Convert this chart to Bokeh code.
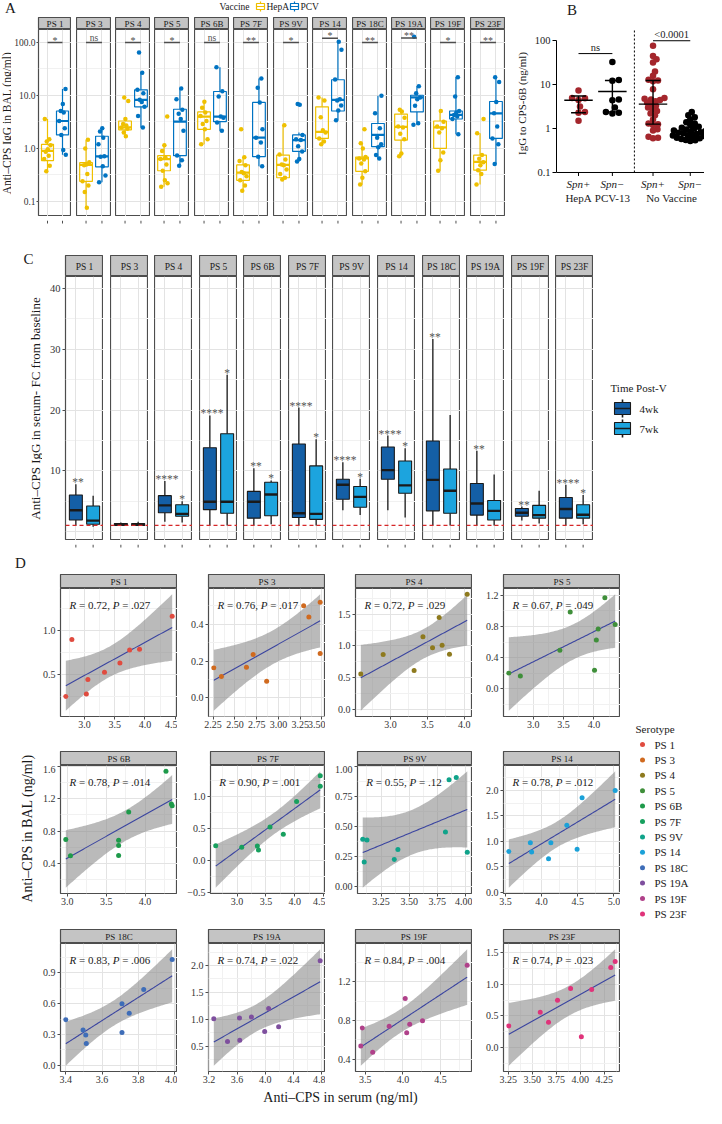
import numpy as np
from bokeh.plotting import figure
from bokeh.layouts import row, column
from bokeh.models import (Range1d, FixedTicker, CustomJSTickFormatter, LinearAxis,
                          LogAxis, Grid, Spacer, Span)
from bokeh.core.properties import value
from bokeh.embed import file_html
from bokeh.resources import INLINE

# ======================= DATA =======================
SEROTYPES = ["PS 1", "PS 3", "PS 4", "PS 5", "PS 6B", "PS 7F", "PS 9V",
             "PS 14", "PS 18C", "PS 19A", "PS 19F", "PS 23F"]

# ---- Panel A: anti-CPS IgG in BAL (ng/ml) ----
A_groups = ["HepA", "PCV"]
A_hepa_points = [
    [3.6, 1.5, 1.35, 1.15, 0.97, 0.87, 0.73, 0.63, 0.47, 0.37],
    [1.46, 1.0, 0.55, 0.5, 0.48, 0.33, 0.24, 0.2, 0.15, 0.076],
    [9.2, 7.9, 3.6, 2.9, 2.7, 2.5, 2.35, 2.0, 1.7],
    [4.0, 1.15, 0.9, 0.68, 0.63, 0.5, 0.38, 0.25, 0.22, 0.19],
    [7.6, 5.9, 4.8, 4.1, 3.3, 2.9, 2.3, 1.5, 1.2],
    [2.3, 0.68, 0.58, 0.48, 0.36, 0.34, 0.3, 0.25, 0.2, 0.16],
    [2.75, 0.77, 0.62, 0.5, 0.48, 0.4, 0.33, 0.28, 0.26],
    [9.2, 8.0, 3.9, 2.2, 2.0, 1.55, 1.35, 1.2],
    [2.3, 1.26, 1.0, 0.69, 0.65, 0.62, 0.52, 0.37, 0.28, 0.21],
    [5.4, 5.0, 3.8, 2.6, 2.5, 1.9, 1.5, 0.8, 0.71],
    [5.1, 3.2, 2.6, 2.4, 2.0, 0.84, 0.6, 0.38],
    [3.6, 1.94, 0.75, 0.64, 0.55, 0.48, 0.39, 0.33, 0.21],
]
A_pcv_points = [
    [13.2, 6.9, 5.1, 4.8, 3.3, 2.4, 1.8, 0.94, 0.76],
    [2.4, 2.1, 1.6, 1.2, 0.71, 0.7, 0.46, 0.31, 0.23],
    [65, 27, 12.8, 11, 8.3, 7.5, 6.1, 4.1, 2.5],
    [13.6, 8.5, 5.4, 4.5, 3.6, 2.15, 0.74, 0.6, 0.47],
    [34, 12, 9.6, 4.0, 3.8, 3.1, 2.15],
    [21, 14, 7.4, 2.3, 1.6, 1.3, 0.7, 0.46],
    [6.9, 6.7, 1.8, 1.5, 1.44, 1.1, 0.88, 0.63, 0.57],
    [103, 73, 20, 8.5, 8.0, 6.5, 5.2, 3.4],
    [9.9, 4.6, 2.4, 1.6, 1.2, 1.05, 0.75, 0.65],
    [128, 15, 11, 9.2, 8.5, 6.4, 3.0, 2.8],
    [22, 9.6, 5.1, 4.7, 4.3, 4.0, 3.6, 1.86],
    [22, 18, 7.5, 4.6, 2.6, 1.55, 1.2, 0.51],
]
# [lower whisker, Q1, median, Q3, upper whisker]
A_hepa_box = [
    [0.37, 0.59, 0.9, 1.2, 3.6], [0.076, 0.24, 0.49, 0.54, 1.46],
    [1.7, 2.25, 2.5, 3.3, 3.6], [0.19, 0.38, 0.63, 0.73, 1.15],
    [1.2, 2.3, 4.0, 4.9, 7.6], [0.155, 0.25, 0.35, 0.49, 0.68],
    [0.26, 0.28, 0.49, 0.75, 2.75], [1.2, 1.55, 2.06, 6.1, 9.2],
    [0.21, 0.37, 0.65, 0.69, 1.26], [0.71, 1.44, 2.56, 4.45, 5.4],
    [0.38, 1.0, 2.5, 3.3, 5.1], [0.21, 0.39, 0.56, 0.75, 1.94],
]
A_pcv_box = [
    [0.76, 1.8, 3.3, 5.1, 13.2], [0.23, 0.45, 0.71, 1.7, 2.4],
    [2.5, 6.1, 8.3, 12.8, 27], [0.47, 0.73, 3.2, 5.5, 13.6],
    [2.15, 3.2, 4.0, 11.9, 34], [0.46, 0.7, 1.6, 7.4, 21],
    [0.57, 0.88, 1.44, 1.8, 2.0], [3.4, 5.1, 8.3, 19.8, 103],
    [0.65, 1.08, 1.8, 2.96, 9.9], [2.8, 4.9, 9.2, 10.1, 15],
    [1.86, 3.6, 4.3, 5.1, 22], [0.51, 1.55, 4.6, 7.7, 22],
]
A_sig = ["*", "ns", "*", "*", "ns", "**", "*", "*", "**", "**", "*", "**"]
A_sig_level = [100, 100, 100, 100, 100, 100, 100, 120, 100, 122, 100, 100]
A_yticks = [0.1, 1, 10, 100]

# ---- Panel B: IgG to CPS-6B (ng/ml) ----
B_top_labels = ["Spn+", "Spn\u2212", "Spn+", "Spn\u2212"]
B_vaccines = ["HepA", "PCV-13", "No Vaccine"]
B_points = [
    [7.4, 5.0, 4.9, 4.5, 3.2, 2.4, 2.3, 1.5],
    [33, 12.8, 12.2, 4.6, 4.4, 3.0, 2.3, 2.2, 2.4],
    [77, 45, 38, 32, 20, 16, 13, 12.5, 12, 7.9, 5.0, 4.8, 4.6, 4.5, 4.2, 3.9,
     3.6, 3.3, 3.0, 2.8, 2.5, 2.2, 2.0, 1.6, 1.3, 1.25, 1.2, 0.96, 0.9, 0.65, 0.62, 0.6],
    [2.4, 2.0, 1.8, 1.6, 1.4, 1.3, 1.2, 1.1, 1.05, 1.0, 0.95, 0.9, 0.88, 0.85, 0.82,
     0.8, 0.78, 0.75, 0.72, 0.7, 0.7, 0.68, 0.65, 0.62, 0.6, 0.58, 0.55, 0.54, 0.52, 0.9],
]
B_center = [4.4, 7.0, 3.6, 0.8]
B_low = [2.3, 2.4, 1.26, 0.62]
B_high = [5.5, 12.4, 12.4, 1.05]
B_sig = ["ns", "<0.0001"]
B_sig_level = [51, 100]
B_yticks = [0.1, 1, 10, 100]

# ---- Panel C: serum fold change from baseline ----
C_times = ["4wk", "7wk"]
C_box_4wk = [
    [1.0, 1.9, 3.5, 6.0, 7.8], [0.9, 1.0, 1.1, 1.3, 1.5], [1.6, 3.1, 4.3, 5.9, 8.3],
    [1.0, 3.6, 4.9, 13.8, 19.1], [1.0, 2.2, 4.9, 6.6, 10.4], [1.0, 2.3, 3.0, 14.4, 20.4],
    [3.5, 5.3, 7.7, 8.6, 11.4], [3.5, 8.6, 10.1, 13.9, 15.8], [1.0, 3.4, 8.5, 14.9, 31.7],
    [1.0, 2.7, 4.6, 7.9, 13.3], [1.8, 2.5, 3.1, 3.8, 4.1], [1.0, 2.2, 3.7, 5.6, 7.7],
]
C_box_7wk = [
    [0.8, 1.2, 1.8, 4.2, 5.9], [0.9, 1.0, 1.1, 1.3, 1.6], [1.5, 2.5, 2.9, 4.4, 5.0],
    [1.0, 3.0, 4.9, 16.1, 25.8], [1.2, 2.6, 6.1, 8.1, 8.4], [1.0, 2.0, 2.9, 10.8, 15.2],
    [2.7, 4.0, 5.7, 7.4, 8.7], [2.3, 6.3, 7.6, 11.6, 13.7], [1.0, 3.0, 6.7, 10.3, 19.2],
    [1.0, 1.9, 3.4, 5.1, 9.4], [1.3, 2.2, 2.7, 4.3, 6.7], [1.2, 2.2, 2.75, 4.4, 6.0],
]
C_sig_4wk = ["**", "", "****", "****", "**", "****", "****", "****", "**", "**", "**", "****"]
C_sig_7wk = ["", "", "*", "*", "*", "*", "*", "*", "", "", "", "*"]
C_baseline = 1.0
C_yticks = [10, 20, 30, 40]

# ---- Panel D: BAL vs serum correlation ----
D_x = [
    [2.69, 2.79, 3.03, 3.055, 3.33, 3.585, 3.746, 3.91, 4.45],
    [2.258, 2.345, 2.633, 2.71, 2.865, 3.29, 3.35, 3.48, 3.48],
    [2.597, 2.90, 3.32, 3.44, 3.57, 3.66, 3.70, 3.80, 4.04],
    [2.60, 2.79, 3.44, 3.61, 4.01, 4.04, 4.07, 4.18, 4.35],
    [2.98, 3.04, 3.66, 3.66, 3.66, 3.79, 4.27, 4.34, 4.35],
    [2.63, 3.08, 3.35, 3.37, 3.57, 3.80, 4.03, 4.44, 4.44],
    [3.087, 3.125, 3.10, 3.368, 3.40, 3.823, 3.855, 3.919, 4.017],
    [3.546, 3.844, 3.862, 4.128, 4.096, 4.349, 4.491, 4.56, 5.018],
    [3.40, 3.495, 3.51, 3.513, 3.71, 3.71, 3.75, 3.83, 3.987],
    [3.27, 3.464, 3.634, 3.638, 3.803, 3.991, 4.047, 4.189, 4.778],
    [3.44, 3.46, 3.598, 3.817, 4.03, 4.05, 4.09, 4.26, 4.854],
    [3.257, 3.584, 3.67, 3.764, 3.90, 4.012, 4.119, 4.318, 4.364],
]
D_y = [
    [0.254, 0.90, 0.283, 0.446, 0.53, 0.635, 0.78, 0.79, 1.163],
    [0.163, 0.116, 0.166, 0.236, 0.09, 0.5, 0.439, 0.52, 0.241],
    [0.557, 0.864, 0.613, 1.147, 0.97, 1.449, 1.01, 0.87, 1.816],
    [0.203, 0.166, 0.497, 0.988, 0.239, 0.628, 0.77, 1.168, 0.825],
    [0.698, 0.497, 0.686, 0.622, 0.50, 1.035, 1.539, 1.134, 1.114],
    [0.235, 0.211, 0.231, 0.166, 0.526, 0.415, 0.925, 1.16, 1.325],
    [0.392, 0.387, 0.203, 0.224, 0.307, 0.453, 0.888, 0.907, 0.283],
    [0.80, 0.968, 0.787, 0.968, 0.655, 1.315, 0.843, 1.855, 2.0],
    [0.444, 0.344, 0.295, 0.211, 0.598, 0.319, 0.505, 0.738, 1.03],
    [1.014, 0.589, 1.025, 0.612, 1.043, 0.777, 1.202, 0.865, 2.089],
    [0.535, 0.722, 0.47, 0.739, 1.028, 0.673, 0.762, 0.798, 1.371],
    [0.343, 0.557, 0.403, 0.746, 0.93, 0.175, 0.915, 1.258, 1.354],
]
D_R = ["0.72", "0.76", "0.72", "0.67", "0.78", "0.90", "0.55", "0.78", "0.83", "0.74", "0.84", "0.74"]
D_P = [".027", ".017", ".029", ".049", ".014", ".001", ".12", ".012", ".006", ".022", ".004", ".023"]
D_xticks = [[3.0, 3.5, 4.0, 4.5], [2.25, 2.5, 2.75, 3.0, 3.25, 3.5], [3.0, 3.5, 4.0], [3.0, 3.5, 4.0],
            [3.0, 3.5, 4.0], [3.0, 3.5, 4.0, 4.5], [3.0, 3.25, 3.5, 3.75, 4.0], [3.5, 4.0, 4.5, 5.0],
            [3.4, 3.6, 3.8, 4.0], [3.2, 3.6, 4.0, 4.4, 4.8], [3.5, 4.0, 4.5], [3.25, 3.5, 3.75, 4.0, 4.25]]
D_yticks = [[0.5, 1.0], [0.0, 0.2, 0.4], [0.0, 0.5, 1.0, 1.5], [0.0, 0.4, 0.8, 1.2],
            [0.4, 0.8, 1.2, 1.6], [-0.5, 0.0, 0.5, 1.0], [0.0, 0.25, 0.5, 0.75, 1.0], [0.0, 0.5, 1.0, 1.5, 2.0],
            [0.0, 0.3, 0.6, 0.9], [0.5, 1.0, 1.5, 2.0], [0.4, 0.8, 1.2], [0.0, 0.5, 1.0, 1.5]]

# ======================= STYLE =======================
SERIF = "Liberation Serif"
INK = "#1A1A1A"
AXTXT = "#333333"
BORDER = "#4D4D4D"
STRIP_FILL = "#C4C4C4"
GMAJ = "#E3E3E3"
GMIN = "#F1F1F1"
COL_HEPA = "#EFC000"
COL_PCV = "#0073C2"
COL_TIME = ["#145FA6", "#1CA4DE"]
B_RED = "#A4262C"
SERO_COLORS = ["#E04B3F", "#D06A1F", "#8E7A1E", "#3F8F3A", "#1E9A4A", "#17A05E",
               "#10A38A", "#1BA1D8", "#3E6DB8", "#7E4F9E", "#B0418A", "#E0337A"]
JIT = [-0.18, 0.12, -0.05, 0.2, 0.02, -0.12, 0.08, -0.22, 0.15, -0.08, 0.05, 0.22]


def mkfig(w, h, xr, yr, ml=0, mb=0, ylog=False, bg="white", outline=None):
    p = figure(width=int(w), height=int(h), x_range=xr, y_range=yr, title=None,
               y_axis_type="log" if ylog else "linear",
               x_axis_location=None, y_axis_location=None,
               output_backend="svg", toolbar_location=None,
               min_border_left=int(ml), min_border_right=0,
               min_border_top=0, min_border_bottom=int(mb))
    # drop the default grids that figure() creates
    p.center = [r for r in p.center if not isinstance(r, Grid)]
    p.background_fill_color = bg
    p.border_fill_color = "white"
    p.outline_line_color = outline
    p.outline_line_width = 1.2
    return p


def pixfig(w, h):
    return mkfig(w, h, Range1d(0, w), Range1d(0, h))


def tickfig(w, ml, xr, ticks, h=8, tick_len=3, color=BORDER):
    """Thin strip under a panel carrying only its x tick marks (no labels)."""
    t = mkfig(w, h, xr, Range1d(0, h), ml=ml)
    n = len(ticks)
    t.segment(x0=ticks, x1=ticks, y0=[h] * n, y1=[h - tick_len] * n,
              line_color=color, line_width=1)
    return t


def ptext(p, h, x, ytop, s, size, align="left", style="normal", color=INK, angle=0.0,
          baseline="middle"):
    p.text(x=[x], y=[h - ytop], text=[s], angle=angle, text_font=value(SERIF),
           text_font_size=size, text_font_style=style, text_color=color,
           text_align=align, text_baseline=baseline)


def hrow(items, start):
    kids = []
    cur = start
    for xl, m, w in items:
        if xl - cur > 0:
            kids.append(Spacer(width=int(xl - cur), height=1))
        kids.append(m)
        cur = xl + w
    return row(*kids)


def strip(w, h, ml, name, size):
    st = mkfig(w, h, Range1d(0, 1), Range1d(0, 1), ml=ml, bg=STRIP_FILL, outline=BORDER)
    st.text(x=[0.5], y=[0.45], text=[name], text_font=value(SERIF), text_font_size=size,
            text_align="center", text_baseline="middle", text_color=INK)
    return st


# ======================= PANEL A =======================
A_FW, A_FH, A_SH, A_MB, A_ML0 = 35, 187, 12, 8, 25
A_H = A_SH + A_FH + A_MB
A_head = pixfig(505, 17)
ptext(A_head, 17, 10, 7, "A", "15px", align="center")
ptext(A_head, 17, 219, 6, "Vaccine", "9.5px")
for kx, col, lab in [(256, COL_HEPA, "HepA"), (290, COL_PCV, "PCV")]:
    A_head.quad(left=[kx], right=[kx + 8], top=[17 - 3], bottom=[17 - 9], fill_color="white",
                line_color=col, line_width=1.2)
    A_head.segment(x0=[kx, kx + 4, kx + 4], x1=[kx + 8, kx + 4, kx + 4], y0=[17 - 6, 17 - 1, 17 - 9],
                   y1=[17 - 6, 17 - 3, 17 - 11], line_color=col, line_width=1.2)
    ptext(A_head, 17, kx + 10, 6, lab, "9.5px")

a_items = []
ytA = pixfig(11, A_H)
ptext(ytA, A_H, 6, A_SH + A_FH / 2, "Anti\u2013CPS IgG in BAL (ng/ml)", "11.5px",
      align="center", angle=np.pi / 2)
a_items.append((8, ytA, 11))
for i, name in enumerate(SEROTYPES):
    ml = A_ML0 if i == 0 else 0
    left = int(round(44.3 + 39.4 * i))
    st = strip(A_FW + ml, A_SH, ml, name, "9px")
    xr = Range1d(0.4, 2.6)
    p = mkfig(A_FW + ml, A_FH, xr, Range1d(0.052, 176), ml=ml, ylog=True, outline=BORDER)
    p.add_layout(Grid(dimension=1, ticker=FixedTicker(ticks=A_yticks,
                      minor_ticks=[10 ** -0.5, 10 ** 0.5, 10 ** 1.5]),
                      grid_line_color=GMAJ, minor_grid_line_color=GMIN))
    p.add_layout(Grid(dimension=0, ticker=FixedTicker(ticks=[1, 2]), grid_line_color=GMAJ))
    for g, (col, pts, box) in enumerate([(COL_HEPA, A_hepa_points[i], A_hepa_box[i]),
                                         (COL_PCV, A_pcv_points[i], A_pcv_box[i])]):
        xc = g + 1
        lo, q1, med, q3, hi = box
        p.segment(x0=[xc, xc], x1=[xc, xc], y0=[q3, lo], y1=[hi, q1], line_color=col, line_width=1.2)
        p.vbar(x=[xc], width=0.8, bottom=[q1], top=[q3], fill_color="white", fill_alpha=0.0,
               line_color=col, line_width=1.2)
        p.segment(x0=[xc - 0.4], x1=[xc + 0.4], y0=[med], y1=[med], line_color=col, line_width=2.2)
        xs = [xc + JIT[(k + 3 * g + i) % len(JIT)] for k in range(len(pts))]
        p.scatter(xs, pts, size=4.5, fill_color=col, line_color=None)
    p.segment(x0=[1], x1=[2], y0=[A_sig_level[i]], y1=[A_sig_level[i]], line_color=BORDER, line_width=1.5)
    is_ns = A_sig[i] == "ns"
    p.text(x=[1.5], y=[A_sig_level[i]], text=[A_sig[i]], text_font=value(SERIF),
           text_font_size="9.5px" if is_ns else "10px", text_color=BORDER,
           text_align="center", text_baseline="bottom", y_offset=0 if is_ns else 3)
    if i == 0:
        p.add_layout(LogAxis(ticker=FixedTicker(ticks=A_yticks),
                             formatter=CustomJSTickFormatter(code="return tick.toFixed(1);"),
                             major_label_text_font=SERIF, major_label_text_font_size="9.5px",
                             major_label_text_color=AXTXT, major_label_standoff=1,
                             major_tick_in=0, major_tick_out=2, major_tick_line_color=BORDER,
                             minor_tick_line_color=None, axis_line_color=None), "left")
    tk = tickfig(A_FW + ml, ml, xr, [1, 2], h=A_MB)
    a_items.append((left - ml, column(st, p, tk), A_FW + ml))
A_row = hrow(a_items, 8)
A_block = column(A_head, A_row)

# ======================= PANEL B =======================
XR_B = Range1d(0.35, 4.72)
B_POS = [1.0, 2.0, 3.2, 4.3]
B_SEP = 2.65
B_YMIN, B_YMAX = 0.073, 190          # frame runs ~6 px below the 0.1 axis line
B_AXIS_Y = 0.1
B_PX_X = 149 / (4.72 - 0.35)
B_PX_LOG = 150 / (np.log10(B_YMAX) - np.log10(B_YMIN))


def swarm(vals, diam):
    ys = np.log10(np.asarray(vals, float)) * B_PX_LOG
    order = np.argsort(ys)
    placed = []
    offs = np.zeros(len(ys))
    cands = [0.0]
    for m in range(1, 80):
        cands += [0.5 * m, -0.5 * m]
    for idx in order:
        for c in cands:
            if all((c - px) ** 2 + (ys[idx] - py) ** 2 >= diam ** 2 for px, py in placed):
                offs[idx] = c
                placed.append((c, ys[idx]))
                break
    return offs


B_head = pixfig(192, 28)
ptext(B_head, 28, 20, 9, "B", "15px", align="center")

pB = mkfig(192, 150, XR_B, Range1d(B_YMIN, B_YMAX), ml=43, ylog=True)
# x axis line and category ticks at 0.1
tick_bottom = B_AXIS_Y * 10 ** (-3.5 / B_PX_LOG)
pB.segment(x0=[XR_B.start], x1=[XR_B.end], y0=[B_AXIS_Y], y1=[B_AXIS_Y], line_color="black", line_width=1)
pB.segment(x0=B_POS, x1=B_POS, y0=[B_AXIS_Y] * 4, y1=[tick_bottom] * 4, line_color="black", line_width=1)
for g in range(4):
    col = B_RED if g in (0, 2) else "black"
    offs = swarm(B_points[g], 6.4 if g < 2 else 4.6)
    pB.scatter([B_POS[g] + o / B_PX_X for o in offs], B_points[g], size=6.5,
               fill_color=col, line_color=None)
    xc = B_POS[g]
    pB.segment(x0=[xc - 0.42, xc - 0.22, xc - 0.22, xc], x1=[xc + 0.42, xc + 0.22, xc + 0.22, xc],
               y0=[B_center[g], B_low[g], B_high[g], B_low[g]],
               y1=[B_center[g], B_low[g], B_high[g], B_high[g]], line_color="black", line_width=1.4)
for (a, b), lab, lev in zip([(0, 1), (2, 3)], B_sig, B_sig_level):
    pB.segment(x0=[B_POS[a]], x1=[B_POS[b]], y0=[lev], y1=[lev], line_color="black", line_width=1)
    pB.text(x=[(B_POS[a] + B_POS[b]) / 2], y=[lev], text=[lab], text_font=value(SERIF),
            text_font_size="10.5px", text_align="center", text_baseline="bottom", y_offset=-1,
            text_color=INK)
pB.segment(x0=[B_SEP], x1=[B_SEP], y0=[B_AXIS_Y], y1=[B_YMAX], line_color="black", line_width=1,
           line_dash="2 2")
pB.add_layout(LogAxis(ticker=FixedTicker(ticks=B_yticks), bounds=(0.1, 100),
                      formatter=CustomJSTickFormatter(code="return tick < 1 ? tick.toString() : tick.toFixed(0);"),
                      axis_label="IgG to CPS-6B (ng/ml)", axis_label_text_font=SERIF,
                      axis_label_text_font_size="11px", axis_label_text_font_style="normal",
                      axis_label_standoff=4, axis_label_text_color=INK,
                      major_label_text_font=SERIF, major_label_text_font_size="10.5px",
                      major_label_text_color=INK, major_label_standoff=2,
                      major_tick_in=0, major_tick_out=4, major_tick_line_color="black",
                      minor_tick_line_color=None, axis_line_color="black"), "left")

pBl = mkfig(192, 26, XR_B, Range1d(0, 26), ml=43)
pBl.text(x=B_POS, y=[21] * 4, text=B_top_labels, text_font=value(SERIF), text_font_size="11px",
         text_font_style="italic", text_align="center", text_baseline="middle", text_color=INK)
pBl.text(x=[B_POS[0], B_POS[1], (B_POS[2] + B_POS[3]) / 2], y=[7] * 3, text=B_vaccines,
         text_font=value(SERIF), text_font_size="11px", text_align="center",
         text_baseline="middle", text_color=INK)
B_block = column(B_head, pB, pBl)

top_row = row(A_block, Spacer(width=7, height=1), B_block)

# ======================= PANEL C =======================
C_FW, C_FH, C_SH, C_MB, C_PAD, C_ML0 = 38, 264, 21, 8, 31, 23
C_H = C_PAD + C_SH + C_FH + C_MB
C_left = pixfig(42, C_H)
ptext(C_left, C_H, 28, 34, "C", "15px", align="center")
ptext(C_left, C_H, 35, 184, "Anti\u2013CPS IgG in serum- FC from baseline", "13px",
      align="center", angle=np.pi / 2)
c_items = [(8, C_left, 42)]
for i, name in enumerate(SEROTYPES):
    ml = C_ML0 if i == 0 else 0
    left = int(round(73 + 44.57 * i))
    st = strip(C_FW + ml, C_SH, ml, name, "9.5px")
    xr = Range1d(0.4, 2.6)
    p = mkfig(C_FW + ml, C_FH, xr, Range1d(-1.48, 41.98), ml=ml, outline=BORDER)
    p.add_layout(Grid(dimension=1, ticker=FixedTicker(ticks=[0, 10, 20, 30, 40], minor_ticks=[5, 15, 25, 35]),
                      grid_line_color=GMAJ, minor_grid_line_color=GMIN))
    p.add_layout(Grid(dimension=0, ticker=FixedTicker(ticks=[1, 2]), grid_line_color=GMAJ))
    for g, (box, sig) in enumerate([(C_box_4wk[i], C_sig_4wk[i]), (C_box_7wk[i], C_sig_7wk[i])]):
        xc = g + 1
        lo, q1, med, q3, hi = box
        p.segment(x0=[xc, xc], x1=[xc, xc], y0=[q3, lo], y1=[hi, q1], line_color=INK, line_width=1.3)
        p.vbar(x=[xc], width=0.75, bottom=[q1], top=[q3], fill_color=COL_TIME[g],
               line_color=INK, line_width=1.1)
        p.segment(x0=[xc - 0.375], x1=[xc + 0.375], y0=[med], y1=[med], line_color=INK, line_width=2.4)
        if sig:
            p.text(x=[xc + (0.12 if g == 0 else 0)], y=[hi], text=[sig], text_font=value(SERIF),
                   text_font_size="11.5px", text_color="#555555", text_align="center",
                   text_baseline="middle", y_offset=-2)
    p.add_layout(Span(location=C_baseline, dimension="width", line_color="#D62728",
                      line_dash="4 3", line_width=1.2))
    if i == 0:
        p.add_layout(LinearAxis(ticker=FixedTicker(ticks=C_yticks),
                                major_label_text_font=SERIF, major_label_text_font_size="10.5px",
                                major_label_text_color=AXTXT, major_label_standoff=2,
                                major_tick_in=0, major_tick_out=3, major_tick_line_color=BORDER,
                                minor_tick_line_color=None, axis_line_color=None), "left")
    tk = tickfig(C_FW + ml, ml, xr, [1, 2], h=C_MB)
    c_items.append((left - ml, column(Spacer(width=C_FW + ml, height=C_PAD), st, p, tk), C_FW + ml))
C_leg = pixfig(111, C_H)
ptext(C_leg, C_H, 17, 163, "Time Post-V", "11px")
for g, lab in enumerate(C_times):
    yc = 184 + 20 * g
    C_leg.quad(left=[21], right=[37], top=[C_H - (yc - 6)], bottom=[C_H - (yc + 6)],
               fill_color=COL_TIME[g], line_color=INK, line_width=1.1)
    C_leg.segment(x0=[21, 29, 29], x1=[37, 29, 29], y0=[C_H - yc, C_H - (yc - 6), C_H - (yc + 6)],
                  y1=[C_H - yc, C_H - (yc - 9), C_H - (yc + 9)], line_color=INK, line_width=1.6)
    ptext(C_leg, C_H, 46, yc, lab, "11px")
c_items.append((601, C_leg, 111))
C_row = hrow(c_items, 8)

# ======================= PANEL D =======================
T975 = {5: 2.571, 6: 2.447, 7: 2.365, 8: 2.306, 9: 2.262, 10: 2.228}
D_FW, D_FH, D_SH, D_MB, D_ML = 117, 128, 14, 17, 24
D_COL_LEFT = [68, 216, 363, 511]
D_H_TOTAL = 558
W_REG = {" ": 0.25, "=": 0.564, ",": 0.25, ".": 0.25}


def wreg(s):
    return sum(W_REG.get(ch, 0.5) for ch in s)


def decimals(ticks):
    d = 1
    for t in ticks:
        s = f"{abs(t):.4f}".rstrip("0")
        d = max(d, len(s.split(".")[1]))
    return d


def mids(ticks):
    t = sorted(ticks)
    st = t[1] - t[0]
    return [t[0] - st / 2] + [v + st / 2 for v in t]


def dpanel(k):
    x = np.asarray(D_x[k], float)
    y = np.asarray(D_y[k], float)
    n = len(x)
    b, a = np.polyfit(x, y, 1)
    xg = np.linspace(x.min(), x.max(), 80)
    yh = a + b * xg
    s_err = np.sqrt(np.sum((y - (a + b * x)) ** 2) / (n - 2))
    sxx = np.sum((x - x.mean()) ** 2)
    se = s_err * np.sqrt(1 / n + (xg - x.mean()) ** 2 / sxx)
    lo, hi = yh - T975[n - 2] * se, yh + T975[n - 2] * se
    dx = (x.max() - x.min()) * 0.05
    y0, y1 = min(y.min(), lo.min()), max(y.max(), hi.max())
    dy = (y1 - y0) * 0.05
    xr = Range1d(x.min() - dx, x.max() + dx)
    yr = Range1d(y0 - dy, y1 + dy)
    p = mkfig(D_FW + D_ML, D_FH + D_MB, xr, yr, ml=D_ML, mb=D_MB, outline=BORDER)
    p.add_layout(Grid(dimension=0, ticker=FixedTicker(ticks=D_xticks[k], minor_ticks=mids(D_xticks[k])),
                      grid_line_color=GMAJ, minor_grid_line_color=GMIN))
    p.add_layout(Grid(dimension=1, ticker=FixedTicker(ticks=D_yticks[k], minor_ticks=mids(D_yticks[k])),
                      grid_line_color=GMAJ, minor_grid_line_color=GMIN))
    p.varea(x=xg, y1=lo, y2=hi, fill_color="#8C8C8C", fill_alpha=0.6)
    p.line(xg, yh, line_color="#3B45A0", line_width=1.1)
    p.scatter(x, y, size=5, fill_color=SERO_COLORS[k], line_color=None)
    # correlation label: italic R and P, regular rest (SVG drops leading spaces)
    xt = xr.start + 9 / D_FW * (xr.end - xr.start)
    yt = yr.end - 16 / D_FH * (yr.end - yr.start)
    fs = 11
    p1 = "= " + D_R[k] + ","
    p3 = "= " + D_P[k]
    o1 = (0.611 + 0.25) * fs
    o2 = o1 + (wreg(p1) + 0.25) * fs
    o3 = o2 + (0.611 + 0.25) * fs
    p.text(x=[xt, xt], y=[yt, yt], text=["R", "P"], x_offset=[0, o2], text_font=value(SERIF),
           text_font_size=f"{fs}px", text_font_style="italic", text_color=INK,
           text_baseline="middle", text_align="left")
    p.text(x=[xt, xt], y=[yt, yt], text=[p1, p3], x_offset=[o1, o3], text_font=value(SERIF),
           text_font_size=f"{fs}px", text_color=INK, text_baseline="middle", text_align="left")
    dxd = decimals(D_xticks[k])
    dyd = decimals(D_yticks[k])
    p.add_layout(LinearAxis(ticker=FixedTicker(ticks=D_xticks[k]),
                            formatter=CustomJSTickFormatter(code=f"return tick.toFixed({dxd}).replace('-', '\u2212');"),
                            major_label_text_font=SERIF, major_label_text_font_size="10px",
                            major_label_text_color=AXTXT, major_label_standoff=1,
                            major_tick_in=0, major_tick_out=3, major_tick_line_color=BORDER,
                            minor_tick_line_color=None, axis_line_color=None), "below")
    p.add_layout(LinearAxis(ticker=FixedTicker(ticks=D_yticks[k]),
                            formatter=CustomJSTickFormatter(code=f"return tick.toFixed({dyd}).replace('-', '\u2212');"),
                            major_label_text_font=SERIF, major_label_text_font_size="10px",
                            major_label_text_color=AXTXT, major_label_standoff=2,
                            major_tick_in=0, major_tick_out=3, major_tick_line_color=BORDER,
                            minor_tick_line_color=None, axis_line_color=None), "left")
    st = strip(D_FW + D_ML, D_SH, D_ML, SEROTYPES[k], "9px")
    return column(st, p)


D_left = pixfig(36, D_H_TOTAL)
ptext(D_left, D_H_TOTAL, 20, 14, "D", "15px", align="center")
ptext(D_left, D_H_TOTAL, 27, 280, "Anti\u2013CPS in BAL (ng/ml)", "14px", align="center", angle=np.pi / 2)

d_kids = [Spacer(width=584, height=26)]
for r in range(3):
    items = [(D_COL_LEFT[c] - D_ML, dpanel(4 * r + c), D_FW + D_ML) for c in range(4)]
    d_kids.append(hrow(items, 44))
    if r < 2:
        d_kids.append(Spacer(width=584, height=18 if r == 0 else 19))
D_xt = pixfig(584, 18)
ptext(D_xt, 18, 304, 9, "Anti\u2013CPS in serum (ng/ml)", "14px", align="center")
d_kids.append(D_xt)
D_grid = column(*d_kids)

D_leg = pixfig(84, D_H_TOTAL)
ptext(D_leg, D_H_TOTAL, 15, 180, "Serotype", "11px")
for k, name in enumerate(SEROTYPES):
    yc = 196 + 15.4 * k
    D_leg.scatter([22], [D_H_TOTAL - yc], size=5, fill_color=SERO_COLORS[k], line_color=None)
    ptext(D_leg, D_H_TOTAL, 34, yc, name, "11px")

D_row = row(D_left, D_grid, D_leg)

page = column(top_row, C_row, D_row)
open("out.html", "w", encoding="utf-8").write(file_html(page, INLINE, "Figure"))
